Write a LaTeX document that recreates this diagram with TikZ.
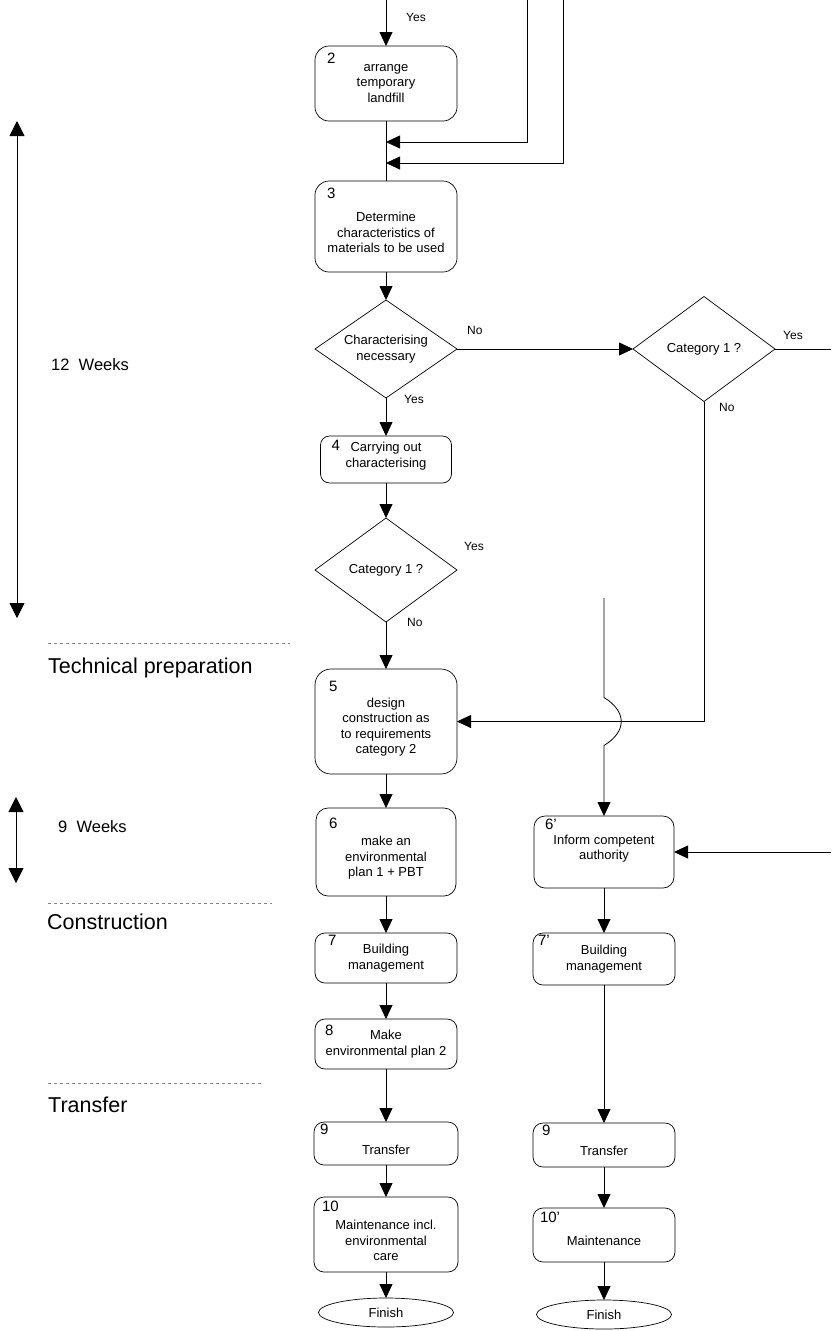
\documentclass[tikz,border=0pt]{standalone}
\usepackage{fontspec}
\setmainfont{Liberation Sans}
\usetikzlibrary{positioning,shapes.geometric,arrows.meta,calc}

\newcommand\padtop[1]{\rule{0pt}{#1}}
\newcommand\padbot[1]{\rule[-#1]{0pt}{0pt}}

\begin{document}
\begin{tikzpicture}[x=1pt, y=-1pt,
    stepbox/.style={draw, rounded corners=14pt, line width=0.7pt, outer sep=0pt, minimum width=142pt, align=center, font=\fontsize{13}{15.5}\selectfont},
    stepnum/.style={font=\fontsize{15}{15}\selectfont, inner sep=0pt, outer sep=0pt, anchor=north west},
    numbered/.style n args={3}{label={[stepnum, xshift=#2pt, yshift=-#3pt]north west:#1}},
    decision/.style={draw, diamond, aspect=1.4, inner sep=0pt, outer sep=0pt, minimum width=142pt, line width=0.7pt, align=center, font=\fontsize{13}{15.5}\selectfont},
    endpoint/.style={draw, ellipse, minimum width=135pt, minimum height=29pt, inner sep=0pt, outer sep=0pt, line width=0.7pt, font=\fontsize{13}{15.5}\selectfont},
    flow/.style={line width=0.8pt, -{Triangle[length=14pt,width=13pt]}},
    link/.style={line width=0.8pt},
    lab/.style={font=\fontsize{12}{14}\selectfont, anchor=west, inner sep=1pt},
    phase/.style={font=\fontsize{21.5}{24}\selectfont, anchor=west, inner sep=0pt},
    weeks/.style={font=\fontsize{16.5}{18}\selectfont, anchor=west, inner sep=0pt},
    durarrow/.style={line width=0.8pt, {Triangle[length=15pt,width=15pt]}-{Triangle[length=15pt,width=15pt]}},
    divider/.style={dashed, gray, line width=0.6pt}]

    \useasboundingbox[fill=white] (0,0) rectangle (831,1331);

    \node (landfill) [stepbox, numbered={2}{12}{7}, minimum height=75pt] at (386,83.5) {arrange\\temporary\\landfill};
    \node (determine) [stepbox, numbered={3}{12}{7}, minimum height=91pt, below=60pt of landfill] {\padtop{21.5pt}Determine\\characteristics of\\materials to be used};
    \node (charnec) [decision, minimum height=98pt, below=28pt of determine] {Characterising\\necessary};
    \node (carryout) [stepbox, numbered={4}{11}{4}, rounded corners=9pt, minimum width=131pt, minimum height=47pt, below=38pt of charnec] {Carrying out\\characterising\padbot{9pt}};
    \node (cat1) [decision, minimum height=104pt, below=35pt of carryout] {Category 1 ?};
    \node (design) [stepbox, numbered={5}{14}{12}, rounded corners=16pt, minimum height=105pt, below=47pt of cat1] {\padtop{20.5pt}design\\construction as\\to requirements\\category 2};
    \node (envplan) [stepbox, numbered={6}{13}{10}, rounded corners=12pt, minimum width=140pt, minimum height=88pt, below=34pt of design] {\padtop{21.5pt}make an\\environmental\\plan 1 + PBT};
    \node (buildmgmt) [stepbox, numbered={7}{13}{2}, rounded corners=10pt, minimum height=50pt, below=37pt of envplan] {Building\\management};
    \node (envplan2) [stepbox, numbered={8}{10}{6}, rounded corners=10pt, minimum height=50pt, below=36pt of buildmgmt] {Make\\environmental plan 2};
    \node (transfer) [stepbox, numbered={9}{6}{2}, rounded corners=10pt, minimum width=144pt, minimum height=43pt, below=53pt of envplan2] {\padtop{21.5pt}Transfer};
    \node (maintenance) [stepbox, numbered={10}{8}{4}, rounded corners=10pt, minimum width=144pt, minimum height=75pt, below=32pt of transfer] {\padtop{21.5pt}Maintenance incl.\\environmental\\care};
    \node (finish) [endpoint, below=26pt of maintenance] {Finish};

    \node (cat1b) [decision, minimum height=105pt, right=176pt of charnec] {Category 1 ?};
    \node (inform) [stepbox, numbered={6'}{11}{3}, rounded corners=11pt, minimum width=140pt, minimum height=72pt, right=78pt of envplan] {Inform competent\\authority\padbot{9.5pt}};
    \node (buildmgmtb) [stepbox, numbered={7'}{5}{2}, rounded corners=10pt, minimum height=52pt, below=45pt of inform] {Building\\management};
    \node (transferb) [stepbox, numbered={9}{9}{2}, rounded corners=10pt, minimum height=44pt, below=138pt of buildmgmtb] {\padtop{21.5pt}Transfer};
    \node (maintenanceb) [stepbox, numbered={10'}{7}{4}, rounded corners=10pt, minimum height=54pt, below=41pt of transferb] {\padtop{21.5pt}Maintenance};
    \node (finishb) [endpoint, below=38pt of maintenanceb] {Finish};

    \node (yes0) [lab] at (405,17) {Yes};
    \node (no1) [lab] at ($(charnec.east)+(9,-19)$) {No};
    \node (yes1) [lab] at ($(charnec.south)+(17,1)$) {Yes};
    \node (yes2) [lab] at ($(cat1b.east)+(7,-14)$) {Yes};
    \node (no2) [lab] at ($(cat1b.south)+(14,6)$) {No};
    \node (yes3) [lab] at ($(cat1.east)+(6,-24)$) {Yes};
    \node (no3) [lab] at ($(cat1.south)+(20,0)$) {No};

    \node (techprep) [phase] at (48,668) {Technical preparation};
    \node (constr) [phase] at (47,922) {Construction};
    \node (handover) [phase] at (48,1105) {Transfer};
    \node (w12) [weeks] at (51,365) {12\ \ Weeks};
    \node (w9) [weeks] at (58,827) {9\ \ Weeks};

    \draw[divider] (48,643) -- (290,643);
    \draw[divider] (48,903) -- (272,903);
    \draw[divider] (48,1083) -- (262,1083);

    \coordinate (w12top) at (17,121);
    \coordinate (w12bot) at (17,618);
    \coordinate (w9top) at (16,797);
    \coordinate (w9bot) at (16,883);
    \draw[durarrow] (w12top) -- (w12bot);
    \draw[durarrow] (w9top) -- (w9bot);

    \coordinate (in0) at (386,0);
    \coordinate (in1) at (527,0);
    \coordinate (in2) at (563,0);
    \coordinate (j1) at ($(landfill.south)+(0,21)$);
    \coordinate (j2) at ($(landfill.south)+(0,42)$);
    \coordinate (exit) at ($(cat1b.east)+(56,0)$);
    \coordinate (in3) at ($(inform.east)+(157,0)$);
    \coordinate (cat1yes) at ($(inform.north)+(0,-218)$);

    \draw[flow] (in0) -- (landfill);
    \draw[link] (landfill) -- (determine);
    \draw[flow] (in1) |- (j1);
    \draw[flow] (in2) |- (j2);
    \draw[flow] (determine) -- (charnec);
    \draw[flow] (charnec) -- (carryout);
    \draw[flow] (charnec) -- (cat1b);
    \draw[link] (cat1b) -- (exit);
    \draw[flow] (cat1b.south) |- (design.east);
    \draw[flow] (carryout) -- (cat1);
    \draw[flow] (cat1) -- (design);
    \draw[flow] (cat1yes) -- ($(cat1yes |- design.east)+(0,-24)$) .. controls +(23,14) and +(23,-14) .. ($(cat1yes |- design.east)+(0,24)$) -- (cat1yes |- inform.north);
    \draw[flow] (design) -- (envplan);
    \draw[flow] (envplan) -- (buildmgmt);
    \draw[flow] (buildmgmt) -- (envplan2);
    \draw[flow] (envplan2) -- (transfer);
    \draw[flow] (transfer) -- (maintenance);
    \draw[flow] (maintenance) -- (finish);
    \draw[flow] (in3) -- (inform);
    \draw[flow] (inform) -- (buildmgmtb);
    \draw[flow] (buildmgmtb) -- (transferb);
    \draw[flow] (transferb) -- (maintenanceb);
    \draw[flow] (maintenanceb) -- (finishb);
\end{tikzpicture}
\end{document}
